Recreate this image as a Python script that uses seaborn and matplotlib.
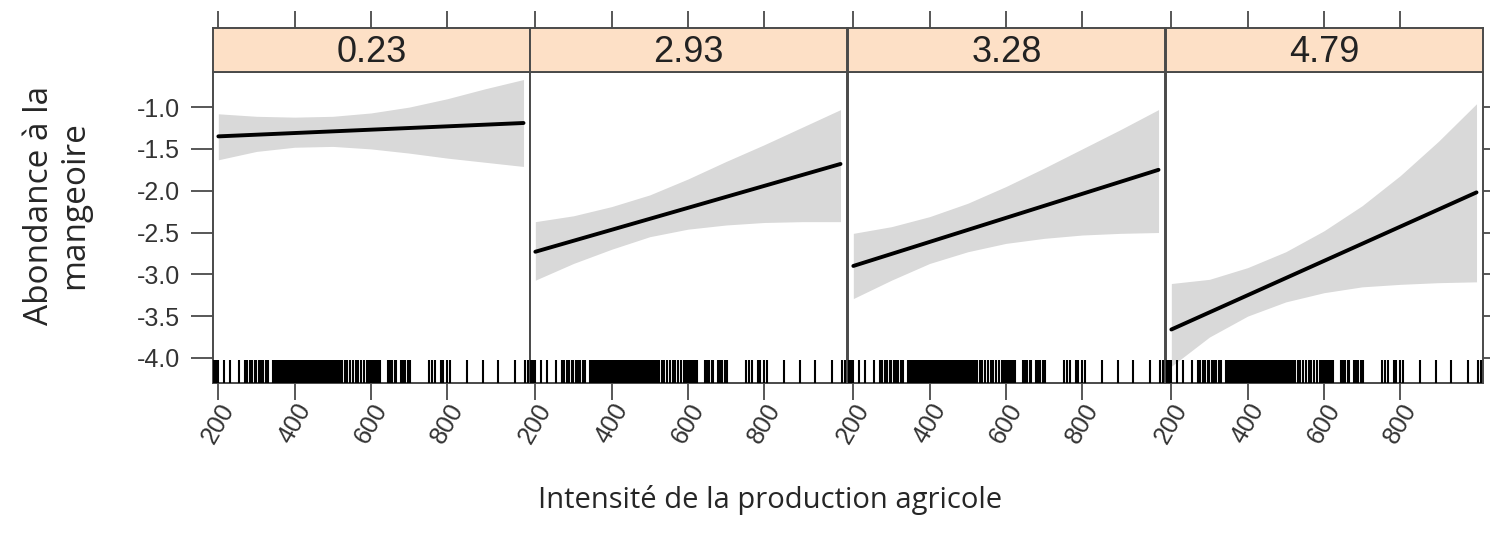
import numpy as np
import pandas as pd
import matplotlib
matplotlib.use("Agg")
import matplotlib.pyplot as plt
import seaborn as sns

# valeurs
panneaux = ["0.23", "2.93", "3.28", "4.79"]
x_grille = [200, 300, 400, 500, 600, 700, 800, 900, 1000]

haut_023 = [-1.08, -1.11, -1.12, -1.11, -1.07, -1.00, -0.90, -0.78, -0.67]
bas_023 = [-1.63, -1.53, -1.48, -1.47, -1.50, -1.55, -1.61, -1.66, -1.71]
haut_293 = [-2.37, -2.30, -2.19, -2.05, -1.86, -1.65, -1.45, -1.24, -1.03]
bas_293 = [-3.07, -2.87, -2.70, -2.55, -2.46, -2.41, -2.38, -2.37, -2.37]
haut_328 = [-2.51, -2.43, -2.31, -2.15, -1.95, -1.73, -1.50, -1.27, -1.03]
bas_328 = [-3.29, -3.07, -2.87, -2.73, -2.63, -2.57, -2.53, -2.51, -2.50]
haut_479 = [-3.11, -3.06, -2.92, -2.73, -2.48, -2.18, -1.82, -1.41, -0.96]
bas_479 = [-4.10, -3.75, -3.50, -3.33, -3.22, -3.15, -3.12, -3.10, -3.09]

x_ligne = [200, 1000]
ligne_debut = [-1.35, -2.73, -2.90, -3.66]
ligne_fin = [-1.19, -1.68, -1.75, -2.02]

rug = [188, 192, 196, 200, 214, 231, 253,
       271, 276, 283, 289, 295, 300, 306, 312, 318, 325, 331,
       344, 348, 352, 356, 360, 364, 368, 372, 376, 380, 384, 388, 392, 396,
       400, 404, 408, 412, 416, 420, 424, 428, 432, 436, 440, 444, 448, 452,
       456, 460, 464, 468, 472, 476, 480, 485, 490, 495, 500, 505, 510, 515,
       520, 525, 531, 538, 545, 552, 560, 567, 575, 582, 590, 596,
       600, 605, 610, 615, 620, 624, 644, 650, 656, 662, 667,
       678, 684, 690, 696, 702, 752, 760, 767, 784, 790, 800, 806,
       852, 894, 934, 978, 1005, 1012]

x_ticks = [200, 400, 600, 800]
y_ticks = [-1.0, -1.5, -2.0, -2.5, -3.0, -3.5, -4.0]

bandes = {
    "0.23": (haut_023, bas_023),
    "2.93": (haut_293, bas_293),
    "3.28": (haut_328, bas_328),
    "4.79": (haut_479, bas_479),
}

lignes = pd.DataFrame({
    "panneau": np.repeat(panneaux, 2),
    "x": x_ligne * 4,
    "y": [v for a, b in zip(ligne_debut, ligne_fin) for v in (a, b)],
})

sns.set_theme(style="white")
plt.rcParams["font.family"] = ["Liberation Sans", "DejaVu Sans"]

W, H = 1490, 538
fig = plt.figure(figsize=(W / 100, H / 100), dpi=100)

gauches = [213, 530, 848, 1166]
largeur = 317
haut_panneau, bas_panneau = 72, 383
haut_strip = 28
bord = "#4a4a4a"

for i, p in enumerate(panneaux):
    ax = fig.add_axes([gauches[i] / W, 1 - bas_panneau / H,
                       largeur / W, (bas_panneau - haut_panneau) / H])
    haut, bas = bandes[p]
    ax.fill_between(x_grille, bas, haut, color="#d9d9d9", lw=0, zorder=1)
    sns.lineplot(data=lignes[lignes["panneau"] == p], x="x", y="y",
                 color="black", lw=2.8, ax=ax, zorder=3)
    sns.rugplot(x=rug, ax=ax, height=0.075, color="black", linewidth=1.5,
                expand_margins=False, zorder=4)
    ax.set_xlim(186, 1017)
    ax.set_ylim(-4.30, -0.58)
    ax.set_xlabel("")
    ax.set_ylabel("")
    ax.set_xticks(x_ticks)
    ax.set_yticks(y_ticks)
    for s in ax.spines.values():
        s.set_color(bord)
        s.set_linewidth(1.4)
    ax.tick_params(axis="x", direction="out", length=12, width=1.3, color=bord,
                   labelsize=18, labelcolor="#333333", pad=17, bottom=True)
    ax.set_xticklabels([str(t) for t in x_ticks], rotation=60, ha="center",
                       rotation_mode="anchor", va="center")
    if i == 0:
        ax.tick_params(axis="y", direction="out", length=16, width=1.3, color=bord,
                       labelsize=18, labelcolor="#333333", pad=8, left=True)
        ax.set_yticklabels([f"{t:.1f}" for t in y_ticks])
    elif i == 3:
        ax.yaxis.tick_right()
        ax.tick_params(axis="y", direction="out", length=16, width=1.3, color=bord,
                       labelright=False, right=True, left=False)
    else:
        ax.tick_params(axis="y", left=False, labelleft=False)

    # bande du titre (strip)
    st = fig.add_axes([gauches[i] / W, 1 - haut_panneau / H,
                       largeur / W, (haut_panneau - haut_strip) / H])
    st.set_facecolor("#fde0c6")
    st.set_xlim(186, 1017)
    st.set_ylim(0, 1)
    st.set_xticks(x_ticks)
    st.set_yticks([])
    st.xaxis.tick_top()
    st.tick_params(axis="x", direction="out", length=12, width=1.3, color=bord,
                   labeltop=False, top=True, bottom=False, labelbottom=False)
    for s in st.spines.values():
        s.set_color(bord)
        s.set_linewidth(1.4)
    st.text(0.5, 0.45, p, transform=st.transAxes, ha="center", va="center",
            fontsize=26, color="#222222")

fig.text(770 / W, 1 - 500 / H, "Intensité de la production agricole",
         ha="center", va="center", fontsize=21, family=["Open Sans", "DejaVu Sans"])
fig.text(57 / W, 1 - 205 / H, "Abondance à la\nmangeoire", rotation=90,
         ha="center", va="center", fontsize=24, linespacing=1.05,
         family=["Open Sans", "DejaVu Sans"])

fig.savefig("out.png", dpi=100)
